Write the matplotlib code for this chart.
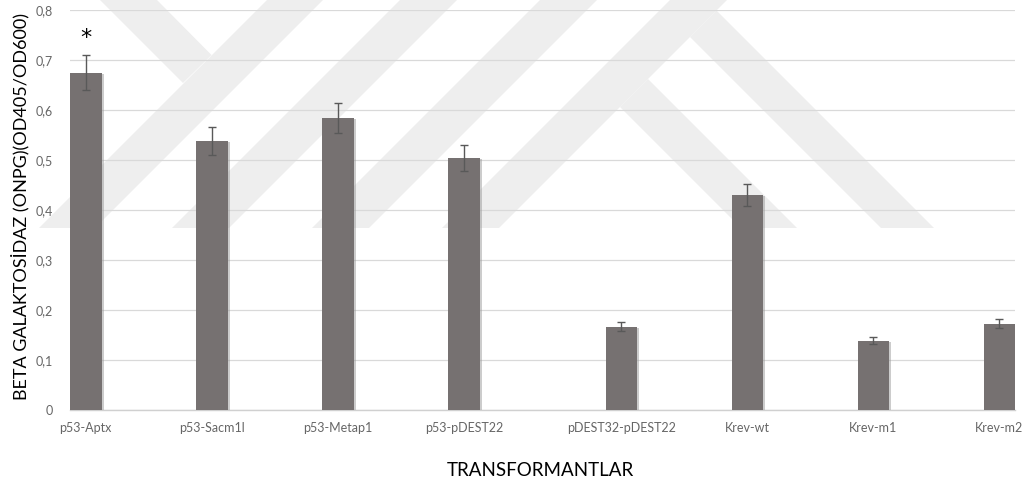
import numpy as np
import matplotlib
matplotlib.use("Agg")
from matplotlib import pyplot as plt
from matplotlib.patches import Polygon
import matplotlib.patheffects as pe

# beta-galactosidase activity per transformant
labels = ["p53-Aptx", "p53-Sacm1l", "p53-Metap1", "p53-pDEST22",
          "pDEST32-pDEST22", "Krev-wt", "Krev-m1", "Krev-m2"]
activity = [0.675, 0.538, 0.585, 0.505, 0.167, 0.430, 0.139, 0.173]
sd = [0.034, 0.027, 0.030, 0.026, 0.009, 0.022, 0.007, 0.009]
star_height = 0.745   # level of the significance mark above p53-Aptx

W, H = 1025, 493
fig = plt.figure(figsize=(W/100., H/100.), dpi=100, facecolor="w")

# faint background emblem, in pixel units measured from the top-left corner
def px(pts):
    return [(x/W, 1 - y/H) for x, y in pts]

bands = [
    [(100, 0), (157, 0), (211.5, 55), (183, 83)],
    [(267, 0), (323, 0), (95, 228), (39, 228)],
    [(400, 0), (457, 0), (229, 228), (172, 228)],
    [(540, 0), (597, 0), (369, 228), (312, 228)],
    [(670, 0), (727, 0), (499, 228), (442, 228)],
    [(716.5, 10.5), (934, 228), (881, 228), (690, 37)],
    [(648, 79), (797, 228), (741, 228), (620, 107)],
]
for b in bands:
    fig.patches.append(Polygon(px(b), closed=True, transform=fig.transFigure,
                               facecolor="#eeeeee", edgecolor="none", zorder=-1))

ax = fig.add_axes([70./W, 1 - 410./H, 945./W, 400./H])
ax.set_facecolor("none")

n = len(labels)
idx = np.arange(n)
xpos = idx + np.where(idx >= 4, 0.25, 0.0)

bars = ax.bar(xpos, activity, width=0.25, color="#767171", zorder=3)
for b in bars:
    b.set_path_effects([pe.SimplePatchShadow(offset=(1.5, -1), shadow_rgbFace="#9a9a9a", alpha=0.5),
                        pe.Normal()])
ax.errorbar(xpos, activity, yerr=sd, fmt="none", ecolor="#595959",
            elinewidth=1.0, capsize=2.6, capthick=1.0, zorder=4)

ax.text(xpos[0], star_height, "*", ha="center", va="center",
        fontsize=16, color="black", family="DejaVu Sans")

ax.set_xlim(-0.125, 7.375)
ax.set_ylim(0, 0.8)
ax.set_yticks(np.arange(0, 0.81, 0.1))
ax.set_yticklabels(["0" if v == 0 else ("%.1f" % v).replace(".", ",") for v in np.arange(0, 0.81, 0.1)])
ax.set_xticks(xpos)
ax.set_xticklabels(labels)
ax.tick_params(length=0, labelsize=9, labelcolor="#666666")
ax.tick_params(axis="y", pad=12)
ax.tick_params(axis="x", pad=9)
for t in ax.get_xticklabels() + ax.get_yticklabels():
    t.set_family("Lato")

ax.grid(axis="y", color="#d9d9d9", linewidth=0.9, zorder=0)
ax.set_axisbelow(True)
for s in ["top", "right", "left"]:
    ax.spines[s].set_visible(False)
ax.spines["bottom"].set_color("#d0d0d0")
ax.spines["bottom"].set_linewidth(1.0)

fig.text(20./W, 1 - 206./H, "BETA GALAKTOSİDAZ (ONPG)(OD405/OD600)", rotation=90,
         ha="center", va="center", fontsize=13, family="Lato", color="black")
fig.text(540./W, 1 - 470./H, "TRANSFORMANTLAR", ha="center", va="center",
         fontsize=13.5, family="Lato", color="black")

plt.savefig("out.png", dpi=100)
